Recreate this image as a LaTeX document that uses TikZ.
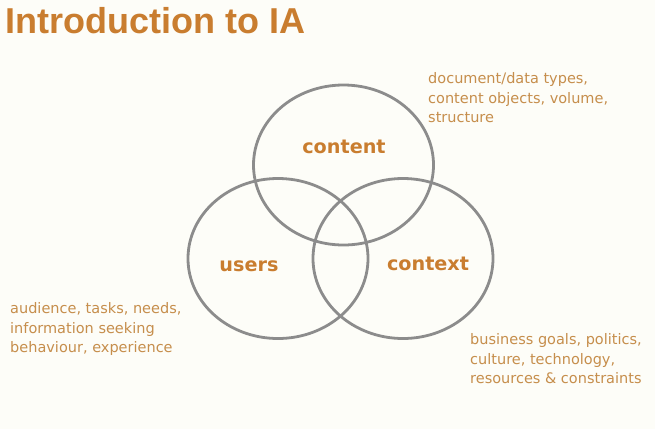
\documentclass[tikz,border=0pt]{standalone}
\usepackage{fontspec}
\setmainfont{DejaVu Sans}
\newfontfamily\titlefont{Liberation Sans}
\usetikzlibrary{shapes.geometric}
\definecolor{paper}{HTML}{FDFDF8}
\definecolor{setgray}{HTML}{8C8C8C}
\definecolor{iaorange}{HTML}{C97D2F}
\definecolor{notetext}{HTML}{C68E4C}

\begin{document}
\begin{tikzpicture}[x=1pt, y=-1pt]
        \tikzstyle{set} = [draw=setgray, line width=2.8pt, ellipse, inner sep=0pt, minimum width=180pt, minimum height=160pt]
        \tikzstyle{setname} = [text=iaorange, font=\fontsize{19.2}{22}\selectfont\bfseries, inner sep=0pt]
        \tikzstyle{note} = [text=notetext, font=\fontsize{14.5}{19.4}\selectfont, align=left, inner sep=0pt, anchor=north west]
        \fill[paper] (0,0) rectangle (655,429);
        \useasboundingbox (0,0) rectangle (655,429);
        \node[anchor=base west, inner sep=0pt, text=iaorange, font=\titlefont\fontsize{36}{40}\selectfont\bfseries] (title) at (5,33) {Introduction to IA};
        \node[set] (contentset) at (343.5,165) {};
        \node[set] (usersset) at (278,258.5) {};
        \node[set] (contextset) at (403,258.5) {};
        \node[setname] (content) at (344,147) {content};
        \node[setname] (users) at (249,266) {users};
        \node[setname] (context) at (428,264) {context};
        \node[note] (contentnote) at (428,72.5) {document/data types,\\content objects, volume,\\structure};
        \node[note] (usersnote) at (10,302.5) {audience, tasks, needs,\\information seeking\\behaviour, experience};
        \node[note] (contextnote) at (470,333.5) {business goals, politics,\\culture, technology,\\resources \& constraints};
      \end{tikzpicture}
\end{document}
